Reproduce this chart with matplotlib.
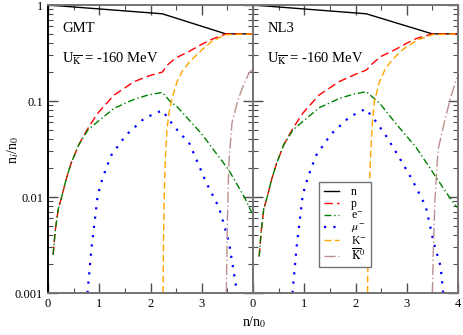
import matplotlib
matplotlib.use('Agg')
import matplotlib.pyplot as plt

plt.rcParams['font.family'] = ['Liberation Serif', 'DejaVu Serif']
plt.rcParams['mathtext.fontset'] = 'stix'

# ── GMT panel ────────────────────────────────────────────────────────────────
gmt_n_x = [0.0, 2.23, 3.47, 4.0]
gmt_n_y = [1.0, 0.81, 0.5, 0.5]

gmt_p_x = [0.1, 0.14, 0.2, 0.26, 0.35, 0.45, 0.6, 0.78, 0.97, 1.29, 1.68, 2.0, 2.23,
           2.33, 2.49, 2.76, 3.0, 3.2, 3.47, 4.0]
gmt_p_y = [0.0025, 0.0044, 0.0075, 0.0097, 0.015, 0.0224, 0.035, 0.052, 0.0745, 0.1155,
           0.159, 0.185, 0.2, 0.237, 0.28, 0.33, 0.39, 0.44, 0.5, 0.5]

gmt_e_x = [0.1, 0.14, 0.2, 0.26, 0.35, 0.45, 0.6, 0.78, 0.97, 1.29, 1.68, 1.94, 2.23,
           2.39, 2.52, 2.99, 3.53, 3.83, 3.98]
gmt_e_y = [0.0025, 0.0044, 0.0075, 0.0097, 0.015, 0.0224, 0.035, 0.05, 0.061, 0.084,
           0.104, 0.115, 0.123, 0.098, 0.087, 0.046, 0.019, 0.01, 0.0068]

gmt_mu_x = [0.77, 0.8, 0.85, 0.91, 0.97, 1.07, 1.23, 1.52, 1.88, 2.23, 2.39, 2.52,
            2.76, 2.95, 3.08, 3.34, 3.53, 3.69]
gmt_mu_y = [0.001, 0.0015, 0.003, 0.0055, 0.0105, 0.016, 0.027, 0.044, 0.066, 0.08,
            0.061, 0.05, 0.036, 0.021, 0.0144, 0.0077, 0.0034, 0.001]

gmt_km_x = [2.245, 2.255, 2.27, 2.29, 2.32, 2.37, 2.43, 2.52, 2.62, 2.76, 3.0, 3.2,
            3.47, 4.0]
gmt_km_y = [0.001, 0.004, 0.012, 0.025, 0.05, 0.08, 0.111, 0.16, 0.205, 0.255, 0.34,
            0.42, 0.49, 0.5]

gmt_k0_x = [3.48, 3.5, 3.53, 3.59, 3.7, 3.8, 3.92, 3.98]
gmt_k0_y = [0.001, 0.0057, 0.023, 0.059, 0.1, 0.14, 0.195, 0.21]

# ── NL3 panel ────────────────────────────────────────────────────────────────
nl3_n_x = [0.0, 2.21, 3.5, 4.0]
nl3_n_y = [1.0, 0.81, 0.5, 0.5]

nl3_p_x = [0.12, 0.16, 0.21, 0.27, 0.36, 0.46, 0.6, 0.78, 0.97, 1.29, 1.68, 2.0, 2.21,
           2.33, 2.49, 2.76, 3.0, 3.2, 3.5, 4.0]
nl3_p_y = [0.0024, 0.0044, 0.0075, 0.0097, 0.015, 0.0224, 0.035, 0.052, 0.0745, 0.1155,
           0.159, 0.19, 0.21, 0.245, 0.29, 0.34, 0.4, 0.45, 0.5, 0.5]

nl3_e_x = [0.12, 0.16, 0.21, 0.27, 0.36, 0.46, 0.6, 0.78, 0.97, 1.29, 1.68, 1.94, 2.21,
           2.47, 2.79, 3.18, 3.51, 3.83, 3.98]
nl3_e_y = [0.0024, 0.0044, 0.0075, 0.0097, 0.015, 0.0224, 0.035, 0.05, 0.061, 0.085,
           0.106, 0.117, 0.125, 0.095, 0.058, 0.033, 0.018, 0.01, 0.0078]

nl3_mu_x = [0.77, 0.8, 0.85, 0.91, 0.97, 1.07, 1.23, 1.52, 1.88, 2.2, 2.4, 2.6, 2.85,
            3.11, 3.37, 3.53, 3.66, 3.71]
nl3_mu_y = [0.001, 0.0015, 0.003, 0.0055, 0.0105, 0.016, 0.027, 0.045, 0.068, 0.083,
            0.061, 0.043, 0.026, 0.015, 0.008, 0.0033, 0.0019, 0.001]

nl3_km_x = [2.235, 2.245, 2.26, 2.28, 2.3, 2.33, 2.37, 2.47, 2.58, 2.72, 2.91, 3.2,
            3.5, 4.0]
nl3_km_y = [0.001, 0.003, 0.008, 0.018, 0.031, 0.06, 0.1, 0.16, 0.215, 0.27, 0.34,
            0.43, 0.49, 0.5]

nl3_k0_x = [3.5, 3.52, 3.55, 3.61, 3.76, 3.88, 3.98]
nl3_k0_y = [0.001, 0.003, 0.0093, 0.031, 0.069, 0.12, 0.175]

LABELS = ['n', 'p', r'e$^{-}$', r'$\mu^{-}$', r'K$^{-}$', r'$\overline{\rm K}^{0}$']
COLORS = ['black', '#ff0000', '#008000', '#0000ff', '#ffa500', '#bc8f8f']
STYLES = ['-', (0, (6, 3)), (0, (5, 2, 1, 2)), (0, (1, 3.2)), (0, (5, 2.5)),
          (0, (8, 2, 1, 2))]
WIDTHS = [1.0, 1.0, 1.0, 1.6, 1.0, 1.0]

panels = [
    ('GMT', [(gmt_n_x, gmt_n_y), (gmt_p_x, gmt_p_y), (gmt_e_x, gmt_e_y),
             (gmt_mu_x, gmt_mu_y), (gmt_km_x, gmt_km_y), (gmt_k0_x, gmt_k0_y)]),
    ('NL3', [(nl3_n_x, nl3_n_y), (nl3_p_x, nl3_p_y), (nl3_e_x, nl3_e_y),
             (nl3_mu_x, nl3_mu_y), (nl3_km_x, nl3_km_y), (nl3_k0_x, nl3_k0_y)]),
]

fig = plt.figure(figsize=(4.63, 3.35), dpi=100)
ax_w = 205 / 463
axes = [fig.add_axes([48 / 463, 42 / 335, ax_w, 288 / 335]),
        fig.add_axes([253 / 463, 42 / 335, ax_w, 288 / 335])]

for i, (ax, (name, series)) in enumerate(zip(axes, panels)):
    for (xs, ys), lab, c, ls, lw in zip(series, LABELS, COLORS, STYLES, WIDTHS):
        ax.plot(xs, ys, color=c, linestyle=ls, linewidth=lw, label=lab)
    ax.set_yscale('log')
    ax.set_xlim(0, 4)
    ax.set_ylim(0.001, 1)
    ax.set_xticks([0, 1, 2, 3, 4])
    ax.set_xticks([0.5, 1.5, 2.5, 3.5], minor=True)
    ax.tick_params(which='both', direction='in', top=True, right=True,
                   color='0.3', labelsize=9)
    ax.tick_params(which='major', length=7, width=1.0)
    ax.tick_params(which='minor', length=3.5, width=0.8)
    for sp in ax.spines.values():
        sp.set_color('0.45')
        sp.set_linewidth(1.4)
    ax.text(0.07, 0.905, name, transform=ax.transAxes, fontsize=10.5)
    ax.text(0.07, 0.80, r'U$_{\overline{\rm K}}$ = -160 MeV',
            transform=ax.transAxes, fontsize=10.5)
    if i == 0:
        ax.spines['left'].set_color('black')
        ax.set_yticks([0.001, 0.01, 0.1, 1])
        ax.set_yticklabels(['0.001', '0.01', '0.1', '1'])
        ax.set_xticklabels(['0', '1', '2', '3', ''])
    else:
        ax.tick_params(labelleft=False)
        ax.legend(loc='lower left', bbox_to_anchor=(0.295, 0.07), fontsize=8.5,
                  handlelength=1.3, labelspacing=0.0, borderpad=0.35,
                  handletextpad=1.0, fancybox=False, edgecolor='0.45',
                  framealpha=1)

fig.text(0.549, 0.025, r'n/n$_0$', ha='center', fontsize=10)
fig.text(0.012, 0.552, r'n$_i$/n$_0$', rotation=90, va='center', fontsize=10)

fig.savefig('out.png', dpi=100)
